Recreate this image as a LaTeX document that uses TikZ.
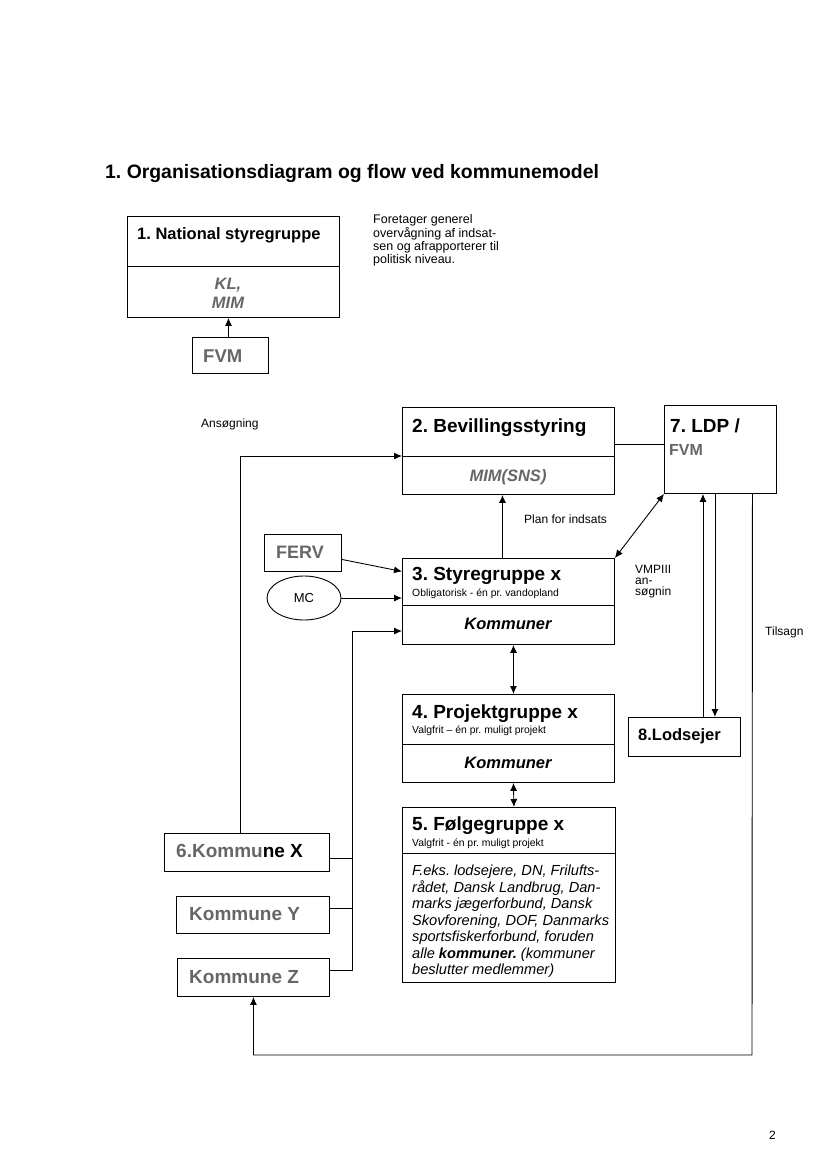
\documentclass[tikz,border=0pt]{standalone}
\usepackage{fontspec}
\setmainfont{Liberation Sans}
\usetikzlibrary{shapes.geometric,arrows.meta}
\definecolor{txtgray}{gray}{0.4}
\frenchspacing

\begin{document}
\begin{tikzpicture}[x=1pt,y=-1pt,
    >={Latex[length=8pt,width=7pt]},
    box/.style={draw, line width=0.9pt, inner sep=0pt, anchor=north west},
    ttl/.style={font=\bfseries\fontsize{19}{22}\selectfont, anchor=base west, inner sep=0pt},
    sub/.style={font=\fontsize{10.4}{12}\selectfont, anchor=base west, inner sep=0pt},
    grp/.style={font=\bfseries\itshape\fontsize{16.5}{19}\selectfont, anchor=base, inner sep=0pt},
    lbl/.style={font=\fontsize{12}{14}\selectfont, anchor=base west, inner sep=0pt},
    conn/.style={line width=0.9pt},
    arr/.style={line width=0.9pt,->}]
    \useasboundingbox (0,0) rectangle (827,1170);

    % heading
    \node[ttl, font=\bfseries\fontsize{19.4}{22}\selectfont] (head) at (105,178) {1. Organisationsdiagram og flow ved kommunemodel};

    % national level
    \node[box, minimum width=212, minimum height=50] (b1)  at (127,216) {};
    \node[box, minimum width=212, minimum height=51] (b1m) at (127,266) {};
    \node[ttl, font=\bfseries\fontsize{16.5}{19}\selectfont] (t1) at (137,239) {1. National styregruppe};
    \node[grp, text=txtgray] (kl)  at (228,289) {KL,};
    \node[grp, text=txtgray] (mim) at (228,308) {MIM};
    \node[lbl, font=\fontsize{12.5}{14}\selectfont] (n1) at (373,223) {Foretager generel};
    \node[lbl, font=\fontsize{12.5}{14}\selectfont] (n2) at (373,237) {overvågning af indsat-};
    \node[lbl, font=\fontsize{12.5}{14}\selectfont] (n3) at (373,250) {sen og afrapporterer til};
    \node[lbl, font=\fontsize{12.5}{14}\selectfont] (n4) at (373,263) {politisk niveau.};
    \node[box, minimum width=76, minimum height=36] (fvm) at (192,337) {};
    \node[ttl, text=txtgray, font=\bfseries\fontsize{18.5}{22}\selectfont] (tfvm) at (203,362) {FVM};

    % bevilling and LDP
    \node[lbl] (ans) at (201,427) {Ansøgning};
    \node[box, minimum width=212, minimum height=49] (b2)  at (402,407) {};
    \node[box, minimum width=212, minimum height=38] (b2m) at (402,456) {};
    \node[ttl] (t2) at (412,432) {2. Bevillingsstyring};
    \node[grp, text=txtgray] (sns) at (508,481) {MIM(SNS)};
    \node[box, minimum width=112, minimum height=88] (b7) at (664,405) {};
    \node[ttl] (t7) at (670,432) {7. LDP /};
    \node[ttl, text=txtgray, font=\bfseries\fontsize{16}{19}\selectfont] (t7b) at (669,455) {FVM};

    % styregruppe
    \node[box, minimum width=77, minimum height=37] (ferv) at (264,534) {};
    \node[ttl, text=txtgray, font=\bfseries\fontsize{18}{22}\selectfont] (tferv) at (276,558) {FERV};
    \node[draw, ellipse, line width=0.9pt, minimum width=74, minimum height=44,
          font=\fontsize{13}{15}\selectfont] (mc) at (304,598) {MC};
    \node[box, minimum width=212, minimum height=47] (b3)  at (402,558) {};
    \node[box, minimum width=212, minimum height=39] (b3k) at (402,605) {};
    \node[ttl] (t3) at (412,580) {3. Styregruppe x};
    \node[sub] (s3) at (412,596) {Obligatorisk - én pr. vandopland};
    \node[grp] (k3) at (508,629) {Kommuner};
    \node[lbl] (plan) at (524,523) {Plan for indsats};
    \node[lbl] (v1) at (635,573) {VMPIII};
    \node[lbl] (v2) at (635,584) {an-};
    \node[lbl] (v3) at (635,595) {søgnin};
    \node[lbl] (tils) at (765,635) {Tilsagn};

    % projektgruppe and lodsejer
    \node[box, minimum width=212, minimum height=50] (b4)  at (402,694) {};
    \node[box, minimum width=212, minimum height=38] (b4k) at (402,744) {};
    \node[ttl] (t4) at (412,718) {4. Projektgruppe x};
    \node[sub] (s4) at (412,733) {Valgfrit – én pr. muligt projekt};
    \node[grp] (k4) at (508,768) {Kommuner};
    \node[box, minimum width=112, minimum height=39] (b8) at (628,717) {};
    \node[ttl, font=\bfseries\fontsize{16.5}{19}\selectfont] (t8) at (638,740) {8.Lodsejer};

    % følgegruppe
    \node[box, minimum width=213, minimum height=46]  (b5)  at (402,807) {};
    \node[box, minimum width=213, minimum height=129] (b5m) at (402,853) {};
    \node[ttl] (t5) at (412,830) {5. Følgegruppe x};
    \node[sub] (s5) at (412,846) {Valgfrit - én pr. muligt projekt};
    \node[anchor=north west, inner sep=0pt, align=left,
          font=\itshape\fontsize{14.6}{16.5}\selectfont] (m5) at (412,865)
          {F.eks. lodsejere, DN, Frilufts-\\
           rådet, Dansk Landbrug, Dan-\\
           marks jægerforbund, Dansk\\
           Skovforening, DOF, Danmarks\\
           sportsfiskerforbund, foruden\\
           alle \textbf{kommuner.} (kommuner\\
           beslutter medlemmer)};

    % kommuner
    \node[box, minimum width=165, minimum height=38] (kx) at (164,833) {};
    \node[box, minimum width=153, minimum height=37] (ky) at (176,896) {};
    \node[box, minimum width=152, minimum height=38] (kz) at (177,958) {};
    \node[ttl] (tkx) at (176,857) {\textcolor{txtgray}{6.Kommu}ne X};
    \node[ttl, text=txtgray] (tky) at (189,920) {Kommune Y};
    \node[ttl, text=txtgray] (tkz) at (189,983) {Kommune Z};

    \node[lbl] (page) at (769,1139) {2};

    % connectors
    \coordinate (j3) at (352,631);
    \coordinate (tb) at (752,1055);
    \draw[arr] ([xshift=-2]fvm.north) -- ([xshift=-2]fvm.north |- b1m.south);
    \draw[arr] ([xshift=-6.5]kx.north) |- (b2m.north west);
    \draw[conn] ([yshift=-12.5]b2.east) -- ([yshift=-12.5]b2.east -| b7.west);
    \draw[arr] ([xshift=-6]b3.north) -- ([xshift=-6]b2m.south);
    \draw[conn,<->] (b3.north east) -- (b7.south west);
    \draw[arr] ([yshift=-6.5]ferv.east) -- ([yshift=10.5]b3.west);
    \draw[arr] (mc.east) -- (mc.east -| b3.west);
    \draw[arr] ([yshift=7]kz.east) -| (j3) -- (j3 -| b3k.west);
    \draw[conn] ([yshift=-6]kx.east) -- ([yshift=-6]kx.east -| j3);
    \draw[conn] ([yshift=6.5]ky.east) -- ([yshift=6.5]ky.east -| j3);
    \draw[conn,<->] ([xshift=5]b3k.south) -- ([xshift=5]b4.north);
    \draw[conn,<->] ([xshift=5]b4k.south) -- ([xshift=5]b5.north);
    \draw[arr] ([xshift=18.5]b8.north) -- ([xshift=18.5]b8.north |- b7.south);
    \draw[arr] ([xshift=30.5]b8.north |- b7.south) -- ([xshift=30.5]b8.north);
    \draw[arr] ([xshift=32]b7.south) -- (tb) -| (kz.south);
\end{tikzpicture}
\end{document}
